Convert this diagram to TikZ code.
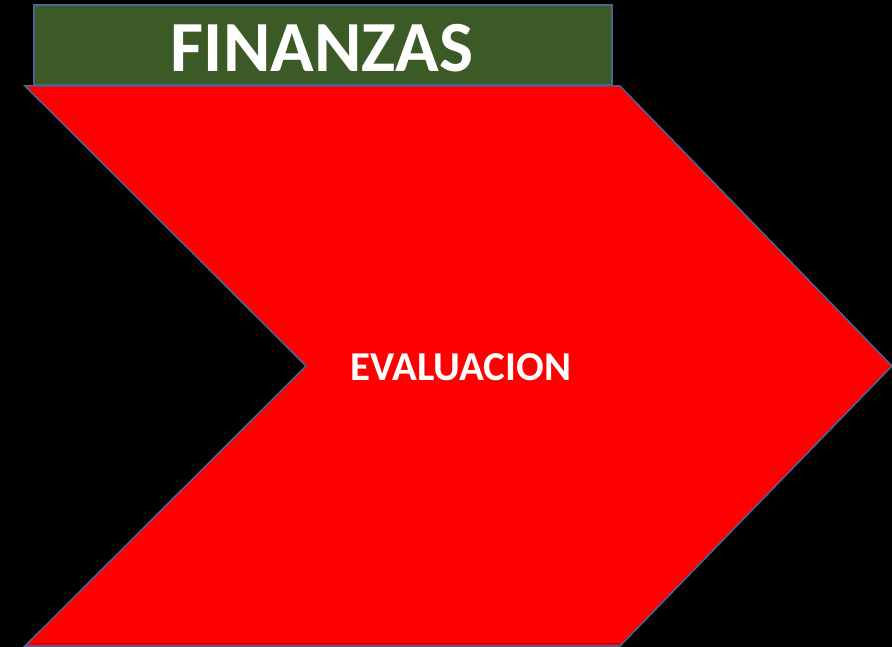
\documentclass[tikz,border=0pt]{standalone}
\usepackage{fontspec}
\setmainfont{Carlito}
\definecolor{bordblue}{HTML}{4A6496}
\definecolor{hdrgreen}{HTML}{3C5A26}
\definecolor{chevred}{HTML}{FE0000}
\tikzset{
  chevron/.style={fill=chevred, draw=bordblue, line width=1.5pt, line join=miter},
  hdrbox/.style={fill=hdrgreen, draw=bordblue, line width=1.8pt},
  bigtxt/.style={text=white, font=\bfseries\fontsize{72}{72}\selectfont, inner sep=0pt},
  midtxt/.style={text=white, font=\bfseries\fontsize{41}{41}\selectfont, inner sep=0pt}
}
\begin{document}
\begin{tikzpicture}[x=1pt,y=-1pt]
\fill[black] (0,0) rectangle (892,647);
\useasboundingbox (0,0) rectangle (892,647);
\coordinate (tl) at (25,86);
\coordinate (tr) at (620,86);
\coordinate (tip) at (892,366);
\coordinate (br) at (620,646);
\coordinate (bl) at (25,646);
\coordinate (notch) at (306,366);
\draw[chevron] (tl) -- (tr) -- (tip) -- (br) -- (bl) -- (notch) -- cycle;
\draw[red!70!black, line width=1pt] (620,643) -- (33,643);
\draw[hdrbox] (34,5) rectangle (612,85);
\node[bigtxt] (fin) at (322,48) {FINANZAS};
\node[midtxt] (eva) at (461,367) {EVALUACION};
\end{tikzpicture}
\end{document}
